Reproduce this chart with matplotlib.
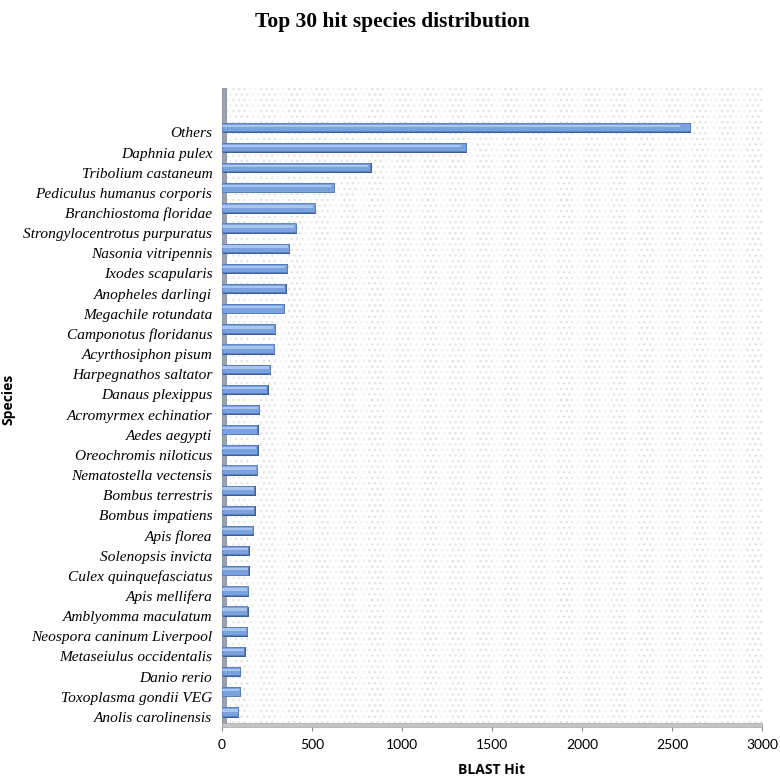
import numpy as np
import matplotlib
matplotlib.use('Agg')
import matplotlib.pyplot as plt
from matplotlib.patches import Rectangle

# data (bottom to top as drawn)
species = ['Anolis carolinensis', 'Toxoplasma gondii VEG', 'Danio rerio',
           'Metaseiulus occidentalis', 'Neospora caninum Liverpool',
           'Amblyomma maculatum', 'Apis mellifera', 'Culex quinquefasciatus',
           'Solenopsis invicta', 'Apis florea', 'Bombus impatiens',
           'Bombus terrestris', 'Nematostella vectensis', 'Oreochromis niloticus',
           'Aedes aegypti', 'Acromyrmex echinatior', 'Danaus plexippus',
           'Harpegnathos saltator', 'Acyrthosiphon pisum', 'Camponotus floridanus',
           'Megachile rotundata', 'Anopheles darlingi', 'Ixodes scapularis',
           'Nasonia vitripennis', 'Strongylocentrotus purpuratus',
           'Branchiostoma floridae', 'Pediculus humanus corporis',
           'Tribolium castaneum', 'Daphnia pulex', 'Others']
hits = [89, 98, 100, 125, 138, 140, 142, 145, 146, 172, 180,
        180, 192, 195, 197, 205, 252, 265, 288, 292,
        343, 352, 360, 372, 411,
        515, 620, 825, 1355, 2598]
xticks = [0, 500, 1000, 1500, 2000, 2500, 3000]

fig = plt.figure(figsize=(7.8, 7.79), dpi=100)
ax = fig.add_axes([0.2846, 0.0693, 0.6923, 0.8177])

pos = np.arange(len(species))
# back wall with faint dotted pattern
wall = Rectangle((0, 0), 1, 1, transform=ax.transAxes, facecolor='white',
                 edgecolor='#e3e3e3', hatch='...', lw=0, zorder=0)
ax.add_patch(wall)
for xv in np.arange(0, 3000, 150):
    ax.axvspan(xv, xv + 60, color='white', alpha=0.55, lw=0, zorder=0.5)

# shadow (3d depth) then body then highlight
ax.barh(pos + 0.22, hits, height=0.5, left=8, color='#3d5f99', zorder=2)
ax.barh(pos + 0.27, hits, height=0.42, color='#7aa2df', edgecolor='#5a7fbf',
        lw=0.6, zorder=3)
ax.barh(pos + 0.33, [h * 0.98 for h in hits], height=0.12, color='#a9c5ee',
        lw=0, zorder=4)

# left wall and floor
ax.add_patch(Rectangle((0, 0), 0.007, 1, transform=ax.transAxes,
                       facecolor='#9aa3b2', edgecolor='#76818f', lw=0.5,
                       zorder=1.5, clip_on=False))
ax.add_patch(Rectangle((0, -0.003), 1, 0.006, transform=ax.transAxes,
                       facecolor='#c4c4c4', edgecolor='#a8a8a8', lw=0.5,
                       zorder=5, clip_on=False))

ax.set_xlim(0, 3000)
ax.set_ylim(-0.4, 31.2)
ax.set_xticks(xticks)
ax.set_xticklabels([str(t) for t in xticks], fontsize=10, family='Lato')
ax.tick_params(axis='x', length=4, color='#8a8a8a', pad=6)
ax.set_yticks(pos)
ax.set_yticklabels(species, fontsize=11.1, family='Liberation Serif',
                   style='italic')
ax.tick_params(axis='y', length=0, pad=7)
for s in ax.spines.values():
    s.set_visible(False)

ax.set_xlabel('BLAST Hit', fontsize=10, fontweight='bold', family='Open Sans',
              labelpad=9)
fig.text(0.011, 0.487, 'Species', rotation=90, ha='center', va='center',
         fontsize=10, fontweight='bold', family='Open Sans')
fig.text(0.503, 0.985, 'Top 30 hit species distribution', ha='center', va='top',
         fontsize=15.5, fontweight='bold', family='Liberation Serif')

fig.savefig('out.png', dpi=100)
